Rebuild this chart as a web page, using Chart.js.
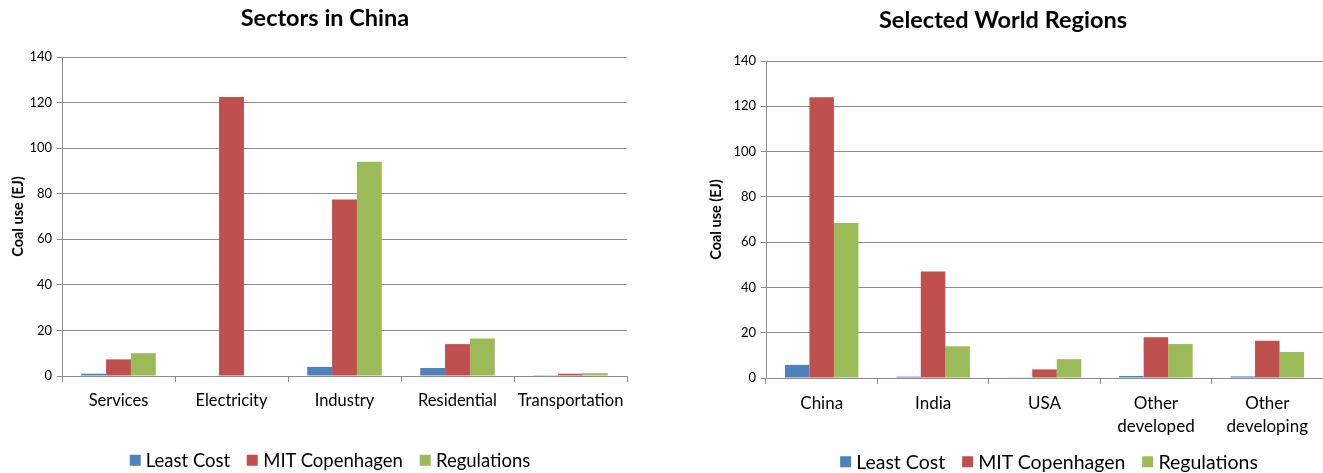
<!DOCTYPE html>
<html>
<head>
<meta charset="utf-8">
<script src="https://cdn.jsdelivr.net/npm/chart.js@4/dist/chart.umd.min.js"></script>
<style>
  html, body { margin: 0; padding: 0; background: #fff; font-family: Lato, "Open Sans", sans-serif; }
  #wrap { position: relative; width: 1323px; height: 473px; overflow: hidden; }
  .box { position: absolute; top: 0; height: 473px; }
  #box-left { left: 0; width: 660px; }
  #box-right { left: 690px; width: 633px; }
  .title {
    position: absolute; transform: translate(-50%, -50%);
    font-weight: bold; font-size: 23.5px; white-space: nowrap; line-height: 1;
  }
  .legend {
    position: absolute; transform: translate(-50%, -50%);
    display: flex; align-items: center; white-space: nowrap; line-height: 1;
  }
  .legend .item { display: flex; align-items: center; margin-right: 17px; }
  .legend .item:last-child { margin-right: 0; }
  .legend .sw { width: 11px; height: 11px; margin-right: 5px; }
</style>
</head>
<body>
<div id="wrap">
  <div class="box" id="box-left"><canvas id="chart-sectors"></canvas></div>
  <div class="box" id="box-right"><canvas id="chart-regions"></canvas></div>
  <div class="title" style="left:325px; top:18px">Sectors in China</div>
  <div class="title" style="left:1003px; top:20px">Selected World Regions</div>
  <div class="legend" id="legend-left" style="left:330px; top:460px; font-size:18.5px"></div>
  <div class="legend" id="legend-right" style="left:1049px; top:462px; font-size:19.5px"></div>
</div>
<script>
// datos (EJ)
const seriesNames = ['Least Cost', 'MIT Copenhagen', 'Regulations'];
const seriesColors = ['#4F81BD', '#C0504D', '#9BBB59'];

const sectorLabels = ['Services', 'Electricity', 'Industry', 'Residential', 'Transportation'];
const sectorLeastCost = [1.0, 0, 4.0, 3.5, 0.1];
const sectorMIT = [7.3, 122.5, 77.5, 14.0, 1.0];
const sectorRegulations = [10.0, 0, 94.0, 16.5, 1.2];

const regionLabels = ['China', 'India', 'USA', ['Other', 'developed'], ['Other', 'developing']];
const regionLeastCost = [5.8, 0.6, 0.3, 0.9, 0.7];
const regionMIT = [124.0, 47.0, 3.8, 18.0, 16.5];
const regionRegulations = [68.5, 14.0, 8.3, 15.0, 11.5];

const yTicks = [0, 20, 40, 60, 80, 100, 120, 140];

const FONT = 'Lato, "Open Sans", sans-serif';
Chart.defaults.font.family = FONT;
Chart.defaults.color = '#000';

// leyendas en HTML a partir de las series
for (const id of ['legend-left', 'legend-right']) {
  document.getElementById(id).innerHTML = seriesNames.map((name, i) =>
    `<span class="item"><span class="sw" style="background:${seriesColors[i]}"></span>${name}</span>`
  ).join('');
}

function renderChart(canvasId, labels, values, opts) {
  const ctx = document.getElementById(canvasId).getContext('2d');
  return new Chart(ctx, {
    type: 'bar',
    data: {
      labels,
      datasets: values.map((data, i) => ({
        label: seriesNames[i],
        data,
        backgroundColor: seriesColors[i],
        borderWidth: 0,
        categoryPercentage: 0.66,
        barPercentage: 1.0
      }))
    },
    options: {
      responsive: true,
      maintainAspectRatio: false,
      animation: false,
      layout: { padding: { left: opts.padLeft, right: opts.padRight, top: opts.padTop, bottom: opts.padBottom } },
      plugins: {
        legend: { display: false },
        tooltip: { enabled: false }
      },
      scales: {
        x: {
          grid: {
            offset: true,
            drawOnChartArea: false,
            drawTicks: true,
            tickLength: 6,
            color: '#8e8e8e'
          },
          border: { color: '#8e8e8e' },
          ticks: {
            font: { size: opts.xFont, family: FONT, lineHeight: 1.35 },
            color: '#000',
            padding: 8,
            maxRotation: 0,
            autoSkip: false
          },
          afterFit: s => { s.height = opts.xHeight; }
        },
        y: {
          min: 0,
          max: 140,
          afterBuildTicks: s => { s.ticks = yTicks.map(v => ({ value: v })); },
          grid: { color: '#8e8e8e', tickLength: 5 },
          border: { color: '#8e8e8e' },
          ticks: { font: { size: 13, family: FONT }, color: '#000', padding: 5 },
          title: {
            display: true,
            text: 'Coal use (EJ)',
            font: { size: 14.5, weight: 'bold', family: FONT },
            color: '#000',
            padding: { top: 0, bottom: 4 }
          },
          afterFit: s => { s.width = opts.yWidth; }
        }
      }
    }
  });
}

renderChart('chart-sectors', sectorLabels,
  [sectorLeastCost, sectorMIT, sectorRegulations],
  { padLeft: 10, padRight: 33, padTop: 57, padBottom: 42, yWidth: 52, xFont: 16.5, xHeight: 55 });

renderChart('chart-regions', regionLabels,
  [regionLeastCost, regionMIT, regionRegulations],
  { padLeft: 18, padRight: 0, padTop: 61, padBottom: 25, yWidth: 58, xFont: 17, xHeight: 70 });
</script>
</body>
</html>
